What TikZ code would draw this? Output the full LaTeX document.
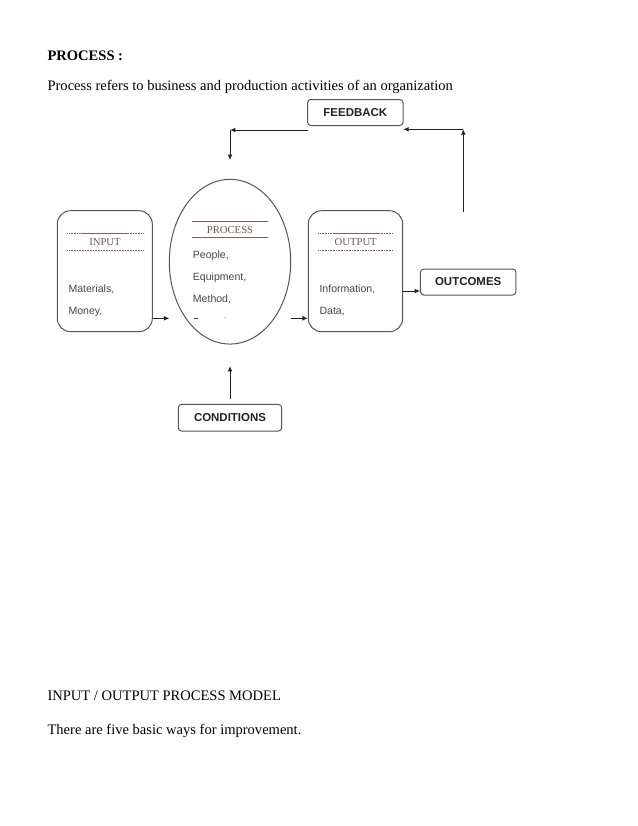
\documentclass[tikz,border=0pt]{standalone}
\usepackage{fontspec}
\setmainfont{Liberation Serif}
\setsansfont{Liberation Sans}
\usetikzlibrary{arrows.meta,shapes.geometric}
\newlength\upx
\setlength\upx{0.75pt}
\definecolor{boxgray}{HTML}{555555}
\definecolor{linedark}{HTML}{222222}
\definecolor{brownhead}{HTML}{7A5252}
\definecolor{brownline}{HTML}{7E6060}
\definecolor{bodygray}{HTML}{444444}
\tikzset{
  arr/.style={draw=linedark,line width=0.75pt,-{Latex[length=4pt,width=3.6pt]}},
  bigbox/.style={draw=boxgray,line width=0.75pt,rounded corners=10pt,minimum width=95\upx,minimum height=121\upx,inner sep=0pt},
  smallbox/.style={draw=boxgray,line width=0.75pt,rounded corners=2.5pt,minimum height=26\upx,inner sep=0pt,
    font=\sffamily\bfseries\fontsize{8.6}{10}\selectfont,text=linedark},
  bodytxt/.style={anchor=base west,inner sep=0pt,font=\sffamily\fontsize{7.9}{9}\selectfont,text=bodygray},
  headtxt/.style={anchor=base,inner sep=0pt,font=\fontsize{8}{9}\selectfont,text=brownhead},
  pagetxt/.style={anchor=base west,inner sep=0pt,font=\fontsize{10.9}{13}\selectfont,text=black},
  rule/.style={draw=brownline,line width=0.7pt},
  dotrule/.style={draw=brownline,line width=0.6pt,dash pattern=on 0.6pt off 0.6pt},
}
\begin{document}
\begin{tikzpicture}[x=0.75pt,y=-0.75pt]
\useasboundingbox[fill=white] (0,0) rectangle (638,826);

% page texts
\node[pagetxt,font=\bfseries\fontsize{10.9}{13}\selectfont] (title) at (47.3,60.7) {PROCESS :};
\node[pagetxt] (intro) at (47.3,90) {Process refers to business and production activities of an organization};
\node[pagetxt] (caption) at (47.3,700.7) {INPUT / OUTPUT PROCESS MODEL};
\node[pagetxt] (ways) at (47.3,734) {There are five basic ways for improvement.};

% main shapes
\node[bigbox] (input) at (104.8,271.2) {};
\node[draw=boxgray,line width=0.75pt,ellipse,minimum width=121.4\upx,minimum height=164.7\upx,inner sep=0pt] (process) at (230,261.7) {};
\node[bigbox,minimum width=94.4\upx] (output) at (355.5,271.2) {};
\node[smallbox,minimum width=95.5\upx] (feedback) at (355.3,112.5) {FEEDBACK};
\node[smallbox,minimum width=95.5\upx] (outcomes) at (468.2,282) {OUTCOMES};
\node[smallbox,minimum width=103.4\upx,minimum height=26.7\upx] (conditions) at (230,417.7) {CONDITIONS};

% INPUT box contents
\draw[dotrule] (67.3,233.3) -- (142.7,233.3);
\draw[rule] (83,233.3) -- (127,233.3);
\draw[dotrule] (67.3,250) -- (142.7,250);
\node[headtxt] (inhead) at (105,245.2) {INPUT};
\node[bodytxt] (mat) at (68.3,292.7) {Materials,};
\node[bodytxt] (mon) at (68.3,314.4) {Money,};

% PROCESS contents
\draw[rule] (191.5,221.3) -- (267.5,221.3);
\draw[rule] (191.5,237.7) -- (267.5,237.7);
\node[headtxt] (prhead) at (230,233.3) {PROCESS};
\node[bodytxt] (peo) at (192.7,258) {People,};
\node[bodytxt] (equ) at (192.7,280.4) {Equipment,};
\node[bodytxt] (met) at (192.7,302.4) {Method,};
\draw[bodygray,line width=0.6pt] (193.5,318.3) -- (198.3,318.3);
\fill[bodygray!70] (225,317.6) circle (0.5);

% OUTPUT box contents
\draw[dotrule] (318.3,233.3) -- (393.3,233.3);
\draw[rule] (334,233.3) -- (378,233.3);
\draw[dotrule] (318.3,250) -- (393.3,250);
\node[headtxt] (outhead) at (355.7,245.2) {OUTPUT};
\node[bodytxt] (inf) at (319.3,292.7) {Information,};
\node[bodytxt] (dat) at (319.3,314.4) {Data,};

% free ends
\coordinate (inTip) at (169.3,318.3);
\coordinate (prOut) at (290.7,318.3);
\coordinate (condTip) at (230,366);
\coordinate (condStart) at (230,399.3);
\coordinate (fbL) at (308,130);
\coordinate (fbCorner) at (230,130);
\coordinate (fbTip) at (230,160);
\coordinate (ocStart) at (463.3,211.7);
\coordinate (ocCorner) at (463.3,129.3);
\coordinate (fbR) at (403.3,129.3);

% connectors
\draw[arr] (input.east |- inTip) -- (inTip);
\draw[arr] (prOut) -- (output.west |- prOut);
\draw[arr] (output.east |- 0,291) -- (outcomes.west |- 0,291);
\draw[arr] (condStart) -- (condTip);
\draw[arr] (fbL) -- (fbCorner);
\draw[arr] (fbCorner) -- (fbTip);
\draw[arr] (ocStart) -- (ocCorner);
\draw[arr] (ocCorner) -- (fbR);
\end{tikzpicture}
\end{document}
